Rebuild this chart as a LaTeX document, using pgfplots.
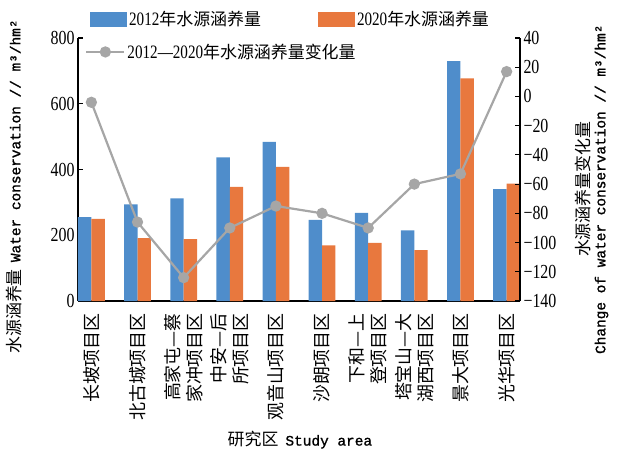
\documentclass[border=0pt]{standalone}
\usepackage{pgfplots}
\pgfplotsset{compat=1.18}
\usepackage{fontspec}
\setmainfont{Liberation Serif}[FakeStretch=0.8]
\newfontfamily\cjk{Noto Sans CJK SC}
\newfontfamily\mono{Liberation Mono}[FakeBold=1.2]
\newcommand{\zh}[1]{{\cjk\fontsize{17}{20}\selectfont #1}}
\newcommand{\en}[1]{{\mono\fontsize{14.5}{16}\selectfont #1}}

\definecolor{barblue}{RGB}{79,141,203}
\definecolor{barorange}{RGB}{232,120,62}
\definecolor{linegray}{RGB}{166,166,166}

\begin{document}
\begin{tikzpicture}
% water conservation per study area (bars, left axis)
\begin{axis}[
  at={(0,0)}, anchor=south west,
  scale only axis, width=442bp, height=263bp,
  xmin=-0.29, xmax=9.29,
  ymin=0, ymax=800,
  axis y line*=left, axis x line*=bottom,
  axis line style={line width=1.2bp, black},
  every tick/.style={line width=1.2bp, black},
  tick align=inside, major tick length=5bp,
  ytick={0,200,400,600,800},
  yticklabels={0,200,400,600,800},
  yticklabel style={font=\fontsize{20}{24}\selectfont},
  xtick={0,...,9},
  xtick style={draw=none},
  xticklabels={
    {长坡项目区},
    {北古城项目区},
    {高家屯—蔡\\家冲项目区},
    {中安—后\\所项目区},
    {观音山项目区},
    {沙朗项目区},
    {下和—上\\登项目区},
    {塔宝山—大\\湖西项目区},
    {景大项目区},
    {光华项目区}},
  xticklabel style={rotate=90, anchor=east, align=right, inner sep=0pt,
    font=\cjk\fontsize{18}{22}\selectfont},
  xticklabel shift=7bp,
  xlabel={\zh{研究区}\hspace{7bp}\en{Study area}},
  xlabel style={at={(axis description cs:0.502,-0.528)}, anchor=center},
  ylabel={\zh{水源涵养量}\hspace{7bp}\en{Water conservation // m³/hm²}},
  ylabel style={at={(axis description cs:-0.145,0.435)}, anchor=center},
  ybar=0pt, bar width=0.29,
  legend columns=2,
  legend cell align=left,
  legend style={draw=none, fill=none, inner sep=0pt,
    at={(axis description cs:0.027,1.072)}, anchor=west,
    font=\fontsize{19}{22}\selectfont,
    /tikz/every even column/.append style={column sep=55bp}},
  legend image code/.code={\fill[#1] (0bp,-7.5bp) rectangle (37bp,7.5bp);},
]
\addplot[fill=barblue, draw=none, bar shift=-0.145]
  coordinates {(0,255) (1,294) (2,312) (3,437) (4,484) (5,247) (6,268) (7,215) (8,730) (9,340)};
\addlegendentry{2012\zh{年水源涵养量}}
\addplot[fill=barorange, draw=none, bar shift=0.145]
  coordinates {(0,250) (1,191) (2,188) (3,347) (4,408) (5,169) (6,177) (7,155) (8,677) (9,357)};
\addlegendentry{2020\zh{年水源涵养量}}
\end{axis}

% change 2012--2020 (line, right axis)
\begin{axis}[
  at={(0,0)}, anchor=south west,
  scale only axis, width=442bp, height=263bp,
  xmin=-0.29, xmax=9.29,
  ymin=-140, ymax=40,
  axis y line*=right, axis x line=none,
  axis line style={line width=1.2bp, black},
  every tick/.style={line width=1.2bp, black},
  tick align=inside, major tick length=5bp,
  ytick={-140,-120,-100,-80,-60,-40,-20,0,20,40},
  yticklabels={−140,−120,−100,−80,−60,−40,−20,0,20,40},
  yticklabel style={font=\fontsize{20}{24}\selectfont},
  ylabel={\zh{水源涵养量变化量}\\[4bp]\en{Change of water conservation // m³/hm²}},
  ylabel style={at={(axis description cs:1.162,0.425)}, anchor=center, rotate=0, align=center},
  legend style={draw=none, fill=none, inner sep=0pt,
    at={(axis description cs:0.016,0.947)}, anchor=west,
    font=\fontsize{19}{22}\selectfont},
  legend image code/.code={\draw[mark repeat=2, mark phase=2, #1]
    plot coordinates {(0bp,0bp) (19bp,0bp) (38bp,0bp)};},
]
\addplot[linegray, line width=2.2bp, mark=*, mark size=4.5bp,
  mark options={fill=linegray, draw=linegray}]
  coordinates {(0,-4) (1,-86) (2,-124) (3,-90) (4,-75) (5,-80) (6,-90) (7,-60) (8,-53) (9,17)};
\addlegendentry{2012—2020\zh{年水源涵养量变化量}}
\end{axis}
\pgfresetboundingbox
\path[use as bounding box] (-78bp,-157bp) rectangle (541bp,301bp);
\end{tikzpicture}
\end{document}
